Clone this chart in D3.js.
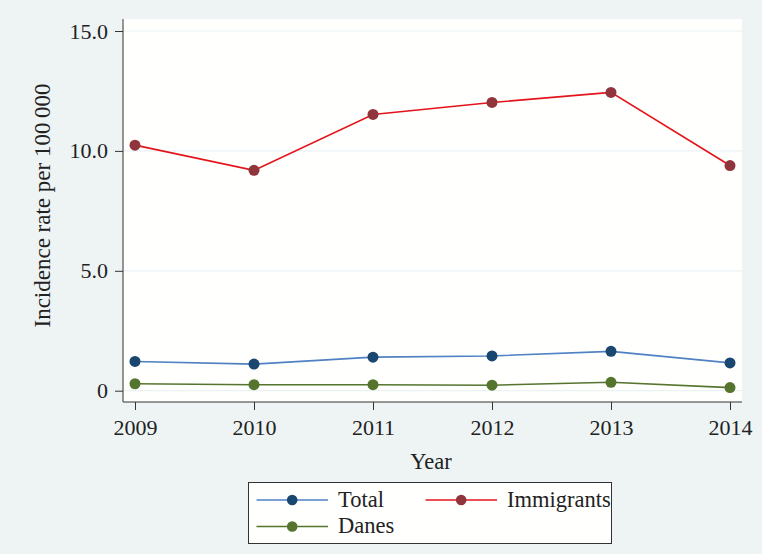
<!DOCTYPE html>
<html><head><meta charset="utf-8">
<script src="https://cdn.jsdelivr.net/npm/d3@7"></script>
<style>body{margin:0;background:#eef4f4;}svg{display:block;}</style>
</head><body>
<svg id="c" width="762" height="554"></svg>
<script>
const years = [2009, 2010, 2011, 2012, 2013, 2014];
const total = [1.22, 1.11, 1.40, 1.45, 1.64, 1.16];
const immigrants = [10.24, 9.19, 11.52, 12.02, 12.44, 9.39];
const danes = [0.29, 0.25, 0.25, 0.23, 0.35, 0.13];
const yTicks = [0, 5, 10, 15];
const yTickLabels = ["0", "5.0", "10.0", "15.0"];

const series = [
  {name: "Total", values: total, line: "#4f81c4", marker: "#1a476f"},
  {name: "Immigrants", values: immigrants, line: "#e4141c", marker: "#90353b"},
  {name: "Danes", values: danes, line: "#55752f", marker: "#55752f"}
];

const svg = d3.select("#c");
const font = "'Liberation Serif', 'DejaVu Serif', serif";
const L = 123, R = 742, T = 19, B = 402;
svg.append("rect").attr("width", 762).attr("height", 554).attr("fill", "#eef4f4");
svg.append("rect").attr("x", L).attr("y", T).attr("width", R - L).attr("height", B - T).attr("fill", "#fffffd");

const x = d3.scaleLinear().domain([2009, 2014]).range([135, 730]);
const y = d3.scaleLinear().domain([0, 15]).range([390.7, 31]);

// grid
svg.append("g").selectAll("line").data(yTicks).join("line")
  .attr("x1", L).attr("x2", R).attr("y1", d => y(d)).attr("y2", d => y(d))
  .attr("stroke", "#eaf2f3").attr("stroke-width", 1.2);

// y axis
const yAxis = d3.axisLeft(y).tickValues(yTicks).tickSize(8).tickPadding(7)
  .tickFormat((d, i) => yTickLabels[i]);
const gy = svg.append("g").attr("transform", `translate(${L},0)`).call(yAxis);
gy.select(".domain").attr("d", `M0,${T}V${B}`).attr("stroke", "#333");
gy.selectAll(".tick line").attr("stroke", "#333");
gy.selectAll("text").attr("font-family", font).attr("font-size", 22).attr("fill", "#222");

// x axis
const xAxis = d3.axisBottom(x).tickValues(years).tickSize(8).tickFormat(d3.format("d"));
const gx = svg.append("g").attr("transform", `translate(0,${B})`).call(xAxis);
gx.select(".domain").attr("d", `M${L},0H${R}`).attr("stroke", "#333");
gx.selectAll(".tick line").attr("stroke", "#333");
gx.selectAll("text").attr("font-family", font).attr("font-size", 22).attr("fill", "#222")
  .attr("y", 33).attr("dy", 0);

// titles
svg.append("text").attr("x", 431).attr("y", 469).attr("text-anchor", "middle")
  .attr("font-family", font).attr("font-size", 22.5).attr("fill", "#222").text("Year");
svg.append("text").attr("transform", "translate(50,205.5) rotate(-90)").attr("text-anchor", "middle")
  .attr("font-family", font).attr("font-size", 23).attr("fill", "#222").text("Incidence rate per 100\u2009000");

// lines
const line = d3.line().x((d, i) => x(years[i])).y(d => y(d));
series.forEach(s => {
  svg.append("path").attr("d", line(s.values)).attr("fill", "none")
    .attr("stroke", s.line).attr("stroke-width", 1.6);
  svg.append("g").selectAll("circle").data(s.values).join("circle")
    .attr("cx", (d, i) => x(years[i])).attr("cy", d => y(d)).attr("r", 5.5)
    .attr("fill", s.marker);
});

// legend
const lg = svg.append("g");
lg.append("rect").attr("x", 248.5).attr("y", 482.5).attr("width", 363).attr("height", 61)
  .attr("fill", "#fffffd").attr("stroke", "#333").attr("stroke-width", 1);
const pos = [{x: 256.5, y: 500}, {x: 425.5, y: 500}, {x: 256.5, y: 526.5}];
series.forEach((s, i) => {
  const p = pos[i];
  lg.append("line").attr("x1", p.x).attr("x2", p.x + 71.5).attr("y1", p.y).attr("y2", p.y)
    .attr("stroke", s.line).attr("stroke-width", 1.6);
  lg.append("circle").attr("cx", p.x + 35.7).attr("cy", p.y).attr("r", 5.3).attr("fill", s.marker);
  lg.append("text").attr("x", p.x + 81.5).attr("y", p.y + 6.5).attr("font-family", font)
    .attr("font-size", 22.5).attr("fill", "#222").text(s.name);
});
</script>
</body></html>
